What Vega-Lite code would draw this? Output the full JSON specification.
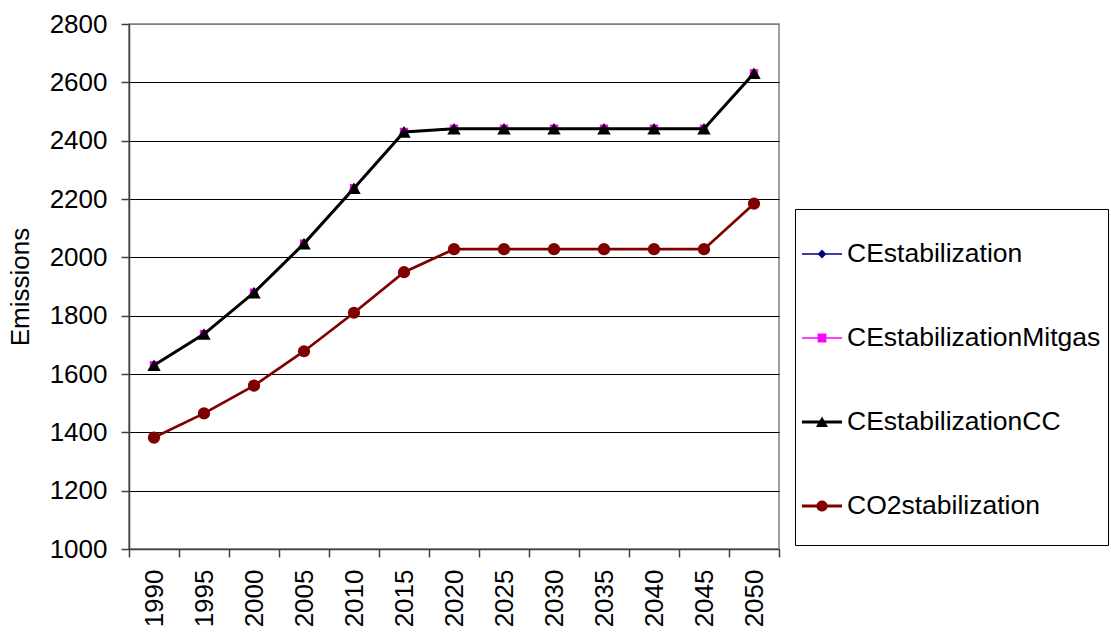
{
  "$schema": "https://vega.github.io/schema/vega-lite/v6.json",
  "width": 650,
  "height": 525,
  "autosize": "none",
  "padding": {"left": 129, "top": 24, "right": 332, "bottom": 86},
  "background": "white",
  "config": {"font": "Liberation Sans", "view": {"stroke": "#808080", "strokeWidth": 1.5}},
  "data": {"values": [
    {"year": "1990", "series": "CEstabilization", "emissions": 1630},
    {"year": "1995", "series": "CEstabilization", "emissions": 1737},
    {"year": "2000", "series": "CEstabilization", "emissions": 1879},
    {"year": "2005", "series": "CEstabilization", "emissions": 2047},
    {"year": "2010", "series": "CEstabilization", "emissions": 2237},
    {"year": "2015", "series": "CEstabilization", "emissions": 2430},
    {"year": "2020", "series": "CEstabilization", "emissions": 2441},
    {"year": "2025", "series": "CEstabilization", "emissions": 2441},
    {"year": "2030", "series": "CEstabilization", "emissions": 2441},
    {"year": "2035", "series": "CEstabilization", "emissions": 2441},
    {"year": "2040", "series": "CEstabilization", "emissions": 2441},
    {"year": "2045", "series": "CEstabilization", "emissions": 2441},
    {"year": "2050", "series": "CEstabilization", "emissions": 2631},
    {"year": "1990", "series": "CEstabilizationMitgas", "emissions": 1630},
    {"year": "1995", "series": "CEstabilizationMitgas", "emissions": 1737},
    {"year": "2000", "series": "CEstabilizationMitgas", "emissions": 1879},
    {"year": "2005", "series": "CEstabilizationMitgas", "emissions": 2047},
    {"year": "2010", "series": "CEstabilizationMitgas", "emissions": 2237},
    {"year": "2015", "series": "CEstabilizationMitgas", "emissions": 2430},
    {"year": "2020", "series": "CEstabilizationMitgas", "emissions": 2441},
    {"year": "2025", "series": "CEstabilizationMitgas", "emissions": 2441},
    {"year": "2030", "series": "CEstabilizationMitgas", "emissions": 2441},
    {"year": "2035", "series": "CEstabilizationMitgas", "emissions": 2441},
    {"year": "2040", "series": "CEstabilizationMitgas", "emissions": 2441},
    {"year": "2045", "series": "CEstabilizationMitgas", "emissions": 2441},
    {"year": "2050", "series": "CEstabilizationMitgas", "emissions": 2631},
    {"year": "1990", "series": "CEstabilizationCC", "emissions": 1630},
    {"year": "1995", "series": "CEstabilizationCC", "emissions": 1737},
    {"year": "2000", "series": "CEstabilizationCC", "emissions": 1879},
    {"year": "2005", "series": "CEstabilizationCC", "emissions": 2047},
    {"year": "2010", "series": "CEstabilizationCC", "emissions": 2237},
    {"year": "2015", "series": "CEstabilizationCC", "emissions": 2430},
    {"year": "2020", "series": "CEstabilizationCC", "emissions": 2441},
    {"year": "2025", "series": "CEstabilizationCC", "emissions": 2441},
    {"year": "2030", "series": "CEstabilizationCC", "emissions": 2441},
    {"year": "2035", "series": "CEstabilizationCC", "emissions": 2441},
    {"year": "2040", "series": "CEstabilizationCC", "emissions": 2441},
    {"year": "2045", "series": "CEstabilizationCC", "emissions": 2441},
    {"year": "2050", "series": "CEstabilizationCC", "emissions": 2631},
    {"year": "1990", "series": "CO2stabilization", "emissions": 1382},
    {"year": "1995", "series": "CO2stabilization", "emissions": 1465},
    {"year": "2000", "series": "CO2stabilization", "emissions": 1560},
    {"year": "2005", "series": "CO2stabilization", "emissions": 1678},
    {"year": "2010", "series": "CO2stabilization", "emissions": 1810},
    {"year": "2015", "series": "CO2stabilization", "emissions": 1949},
    {"year": "2020", "series": "CO2stabilization", "emissions": 2028},
    {"year": "2025", "series": "CO2stabilization", "emissions": 2028},
    {"year": "2030", "series": "CO2stabilization", "emissions": 2028},
    {"year": "2035", "series": "CO2stabilization", "emissions": 2028},
    {"year": "2040", "series": "CO2stabilization", "emissions": 2028},
    {"year": "2045", "series": "CO2stabilization", "emissions": 2028},
    {"year": "2050", "series": "CO2stabilization", "emissions": 2184}
  ]},
  "encoding": {
    "x": {
      "field": "year", "type": "ordinal",
      "scale": {"type": "band", "paddingInner": 0, "paddingOuter": 0},
      "axis": {
        "title": null, "labelAngle": -90, "labelFontSize": 26, "labelColor": "black",
        "labelPadding": 12, "tickSize": 8, "tickColor": "#404040", "tickWidth": 1.5, "tickBand": "extent",
        "domainColor": "#404040", "domainWidth": 1.5, "grid": false
      }
    },
    "y": {
      "field": "emissions", "type": "quantitative",
      "scale": {"domain": [1000, 2800], "nice": false, "zero": false},
      "axis": {
        "title": "Emissions", "values": [1000, 1200, 1400, 1600, 1800, 2000, 2200, 2400, 2600, 2800],
        "format": "d",
        "labelFontSize": 26, "labelColor": "black", "labelPadding": 14,
        "tickSize": 8, "tickColor": "#404040", "tickWidth": 1.5,
        "domainColor": "#404040", "domainWidth": 1.5,
        "gridColor": {"condition": {"test": "datum.value === 2800", "value": "#808080"}, "value": "black"},
        "gridWidth": 1, "gridOpacity": 1,
        "titleFontSize": 26, "titleFontWeight": "normal", "titleColor": "black", "titlePadding": 16
      }
    },
    "color": {
      "field": "series", "type": "nominal",
      "scale": {
        "domain": ["CEstabilization", "CEstabilizationMitgas", "CEstabilizationCC", "CO2stabilization"],
        "range": ["#000080", "#FF00FF", "#000000", "#800000"]
      },
      "legend": {
        "title": " ", "titleFontSize": 1, "titlePadding": 17,
        "orient": "none", "legendX": 666, "legendY": 185, "direction": "vertical",
        "padding": 7, "strokeColor": "black", "fillColor": "white",
        "labelFontSize": 26.5, "labelColor": "black", "labelLimit": 400, "labelOffset": 5,
        "symbolOffset": 0, "rowPadding": 16, "symbolSize": 1600, "symbolStrokeWidth": 0,
        "encode": {
          "symbols": {
            "update": {
              "shape": {"signal": "datum.value === 'CEstabilization' ? 'M0,-1.8M0,1.6M-1,-0.035H1V0.035H-1ZM0,-0.22L0.22,0L0,0.22L-0.22,0Z' : datum.value === 'CEstabilizationMitgas' ? 'M0,-1.8M0,1.6M-1,-0.035H1V0.035H-1ZM-0.22,-0.22H0.22V0.22H-0.22Z' : datum.value === 'CEstabilizationCC' ? 'M0,-1.8M0,1.6M-1,-0.075H1V0.075H-1ZM0,-0.27L0.3,0.25L-0.3,0.25Z' : 'M0,-1.8M0,1.6M-1,-0.075H1V0.075H-1ZM0.28,0A0.28,0.28 0 1,1 -0.28,0A0.28,0.28 0 1,1 0.28,0Z'"},
              "fill": {"scale": "color", "field": "value"},
              "strokeWidth": {"value": 0},
              "opacity": {"value": 1},
              "size": {"value": 1600}
            }
          }
        }
      }
    }
  },
  "layer": [
    {"transform": [{"filter": "datum.series === 'CEstabilization'"}], "mark": {"type": "line", "strokeWidth": 1.5}},
    {"transform": [{"filter": "datum.series === 'CEstabilization'"}], "mark": {"type": "point", "shape": "diamond", "filled": true, "size": 64, "opacity": 1}},
    {"transform": [{"filter": "datum.series === 'CEstabilizationMitgas'"}], "mark": {"type": "line", "strokeWidth": 1.5}},
    {"transform": [{"filter": "datum.series === 'CEstabilizationMitgas'"}], "mark": {"type": "point", "shape": "square", "filled": true, "size": 70, "opacity": 1}},
    {"transform": [{"filter": "datum.series === 'CEstabilizationCC'"}], "mark": {"type": "line", "strokeWidth": 3}},
    {"transform": [{"filter": "datum.series === 'CEstabilizationCC'"}], "mark": {"type": "point", "shape": "triangle-up", "filled": true, "size": 180, "opacity": 1}},
    {"transform": [{"filter": "datum.series === 'CO2stabilization'"}], "mark": {"type": "line", "strokeWidth": 2.75}},
    {"transform": [{"filter": "datum.series === 'CO2stabilization'"}], "mark": {"type": "point", "shape": "circle", "filled": true, "size": 150, "opacity": 1}}
  ]
}
